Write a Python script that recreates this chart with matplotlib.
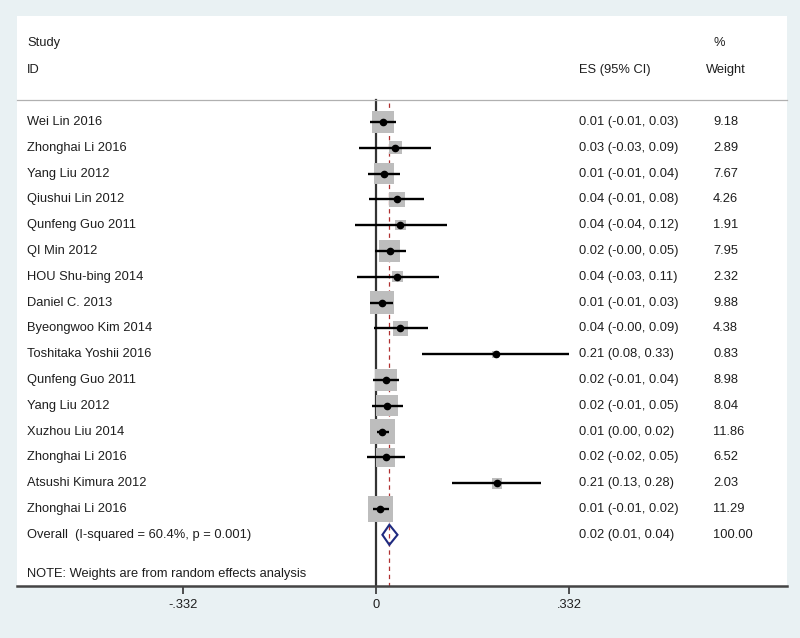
import numpy as np
import matplotlib
matplotlib.use("Agg")
import matplotlib.pyplot as plt
from matplotlib.patches import Polygon

plt.rcParams['font.family'] = ['Liberation Sans', 'DejaVu Sans']

# данные исследований (оценки)
studies = ["Wei Lin 2016", "Zhonghai Li 2016", "Yang Liu 2012", "Qiushui Lin 2012",
           "Qunfeng Guo 2011", "QI Min 2012", "HOU Shu-bing 2014", "Daniel C. 2013",
           "Byeongwoo Kim 2014", "Toshitaka Yoshii 2016", "Qunfeng Guo 2011",
           "Yang Liu 2012", "Xuzhou Liu 2014", "Zhonghai Li 2016",
           "Atsushi Kimura 2012", "Zhonghai Li 2016"]
es = [0.012, 0.033, 0.014, 0.036, 0.042, 0.024, 0.037, 0.010, 0.042, 0.206,
      0.017, 0.019, 0.011, 0.017, 0.208, 0.007]
lo = [-0.010, -0.029, -0.014, -0.012, -0.037, -0.002, -0.033, -0.010, -0.004, 0.079,
      -0.006, -0.007, 0.001, -0.016, 0.131, -0.006]
hi = [0.034, 0.094, 0.042, 0.083, 0.122, 0.052, 0.108, 0.030, 0.089, 0.332,
      0.040, 0.046, 0.022, 0.050, 0.284, 0.022]
weights = [9.18, 2.89, 7.67, 4.26, 1.91, 7.95, 2.32, 9.88, 4.38, 0.83,
           8.98, 8.04, 11.86, 6.52, 2.03, 11.29]

overall_label = "Overall  (I-squared = 60.4%, p = 0.001)"
overall_es, overall_lo, overall_hi, overall_w = 0.023, 0.011, 0.037, 100.00
note = "NOTE: Weights are from random effects analysis"

xticks = [-0.332, 0, 0.332]
xticklabels = ["-.332", "0", ".332"]

bg = '#e9f1f3'
txt = '#1e1e1e'
fs = 9.3

fig = plt.figure(figsize=(8, 6.38), dpi=100, facecolor=bg)
# белая панель: x 17..787 px, y 16..586 px
ax = fig.add_axes([17/800, (638-586)/638, 770/800, 570/638])
ax.set_facecolor('white')

x0px, scale = 376, 581.0
ax.set_xlim((17 - x0px)/scale, (787 - x0px)/scale)
rowpx, step = 122, 25.8
ax.set_ylim((586 - rowpx)/step, (16 - rowpx)/step)
head_y = (100 - rowpx)/step

n = len(studies)
rows = np.arange(n)
tr = ax.get_yaxis_transform()

# заголовки
ax.text(0.013, (43 - rowpx)/step, "Study", transform=tr, fontsize=fs, color=txt, va='center')
ax.text(0.013, (70 - rowpx)/step, "ID", transform=tr, fontsize=fs, color=txt, va='center')
ax.text(0.730, (70 - rowpx)/step, "ES (95% CI)", transform=tr, fontsize=fs, color=txt, va='center')
ax.text(0.904, (43 - rowpx)/step, "%", transform=tr, fontsize=fs, color=txt, va='center')
ax.text(0.895, (70 - rowpx)/step, "Weight", transform=tr, fontsize=fs, color=txt, va='center')
ax.plot([0, 1], [head_y, head_y], transform=tr, color='#b0b0b0', lw=0.9, clip_on=False)

# вертикальные линии
ymax = ax.get_ylim()[0]
ax.plot([0, 0], [head_y, ymax], color='#333333', lw=1.6, zorder=1)
ax.plot([overall_es, overall_es], [head_y + 0.12, ymax], color='#b03030', lw=0.9,
        dashes=(3.5, 3), zorder=1)

# квадраты, доверительные интервалы, точки
ax.scatter(es, rows, s=[29.0*w for w in weights], marker='s', color='#bdbdbd',
           edgecolors='none', zorder=2)
ax.hlines(rows, lo, hi, color='black', lw=1.7, zorder=3)
ax.plot(es, rows, 'o', color='black', ms=4.5, zorder=4)

for i in range(n):
    ax.text(0.013, i, studies[i], transform=tr, fontsize=fs, color=txt, va='center')
    ax.text(0.730, i, f"{es[i]:.2f} ({lo[i]:.2f}, {hi[i]:.2f})", transform=tr,
            fontsize=fs, color=txt, va='center')
    ax.text(0.904, i, f"{weights[i]:.2f}", transform=tr, fontsize=fs, color=txt, va='center')

# итоговый ромб
oy = n
ax.add_patch(Polygon([(overall_lo, oy), (overall_es, oy - 0.39), (overall_hi, oy),
                      (overall_es, oy + 0.39)], closed=True, fill=False,
                     edgecolor='#1f2a80', lw=1.5, zorder=5))
ax.text(0.013, oy, overall_label, transform=tr, fontsize=fs, color=txt, va='center')
ax.text(0.730, oy, f"{overall_es:.2f} ({overall_lo:.2f}, {overall_hi:.2f})", transform=tr,
        fontsize=fs, color=txt, va='center')
ax.text(0.904, oy, f"{overall_w:.2f}", transform=tr, fontsize=fs, color=txt, va='center')

ax.text(0.013, (574 - rowpx)/step, note, transform=tr, fontsize=fs, color=txt, va='center')

# оси
for s in ['top', 'left', 'right']:
    ax.spines[s].set_visible(False)
ax.spines['bottom'].set_color('#444444')
ax.spines['bottom'].set_linewidth(1.8)
ax.set_yticks([])
ax.set_xticks(xticks)
ax.set_xticklabels(xticklabels)
ax.tick_params(axis='x', direction='out', length=6, width=1.2, color='#333333',
               labelsize=fs, labelcolor=txt, pad=3)

fig.savefig('out.png', dpi=100, facecolor=bg)
